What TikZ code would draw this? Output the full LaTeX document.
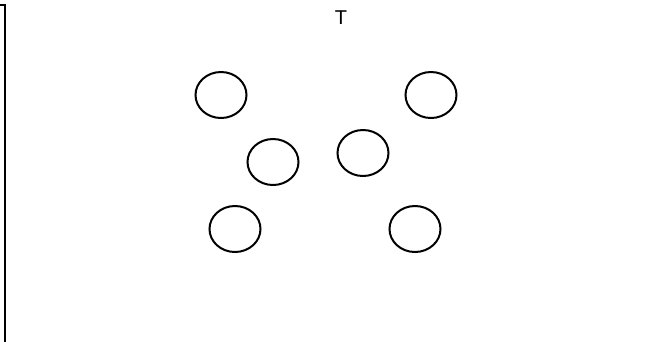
\documentclass[tikz,border=0pt]{standalone}
\usepackage{fontspec}
\setmainfont{Liberation Sans}
\usetikzlibrary{shapes.geometric}
\begin{document}
\begin{tikzpicture}[x=1pt,y=-1pt,
  ring/.style={draw=black,line width=2pt,ellipse,minimum width=51pt,minimum height=46pt,inner sep=0pt},
  frameline/.style={draw=black,line width=2.2pt},
  titletext/.style={inner sep=0pt,font=\fontsize{20pt}{24pt}\selectfont}]
\useasboundingbox (0,0) rectangle (667,341);
\node[titletext] (title) at (341,17.5) {T};
\node[ring] (e1) at (221,95) {};
\node[ring] (e2) at (431,95) {};
\node[ring] (e3) at (273,162) {};
\node[ring] (e4) at (363,153) {};
\node[ring] (e5) at (235,229) {};
\node[ring] (e6) at (415,229) {};
\coordinate (c0) at (-1,5);
\coordinate (c1) at (5,5);
\coordinate (c2) at (5,342);
\draw[frameline] (c0) -- (c1) -- (c2);
\end{tikzpicture}
\end{document}
